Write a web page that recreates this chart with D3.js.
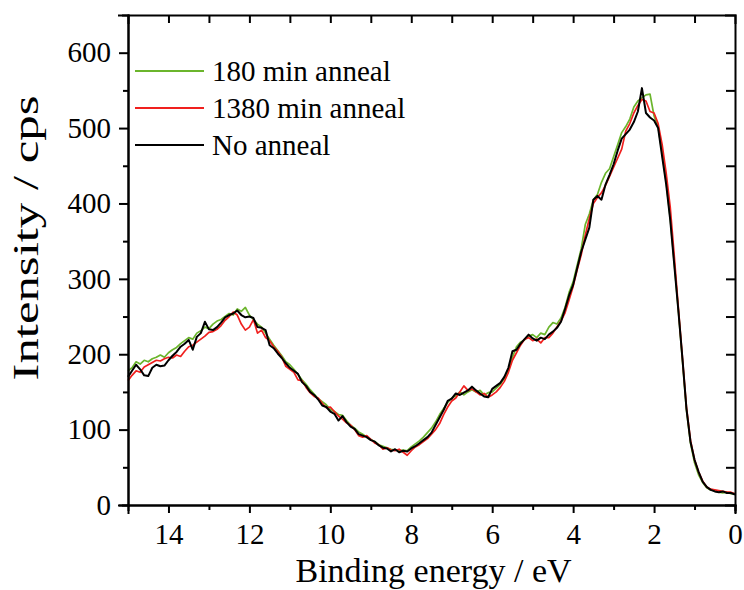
<!DOCTYPE html>
<html>
<head>
<meta charset="utf-8">
<script src="https://cdn.jsdelivr.net/npm/d3@7"></script>
<style>
  body { margin: 0; background: #fff; }
  text { font-family: "Liberation Serif", "Times New Roman", serif; fill: #000; }
</style>
</head>
<body>
<div id="chart"></div>
<script>
//  data : valence band spectra, binding energy 15.0 -> 0.0 eV, step 0.1 eV
var E_START = 15.0;
var E_STEP = 0.1;

var SERIES_NAMES = ["180 min anneal", "1380 min anneal", "No anneal"];
var SERIES_COLORS = ["#6bb52c", "#f0201e", "#000000"];

var anneal180 = [
  178, 182, 190, 187, 192, 190, 194, 196, 199, 196,
  202, 206, 209, 214, 218, 222, 220, 228, 231, 236,
  234, 240, 244, 246, 250, 254, 252, 260, 257, 262,
  252, 246, 240, 236, 228, 220, 212, 205, 198, 190,
  186, 180, 173, 166, 160, 153, 147, 141, 137, 133,
  127, 124, 120, 119, 112, 106, 102, 97, 94, 90,
  87, 84, 80, 78, 76, 74, 73, 72, 73, 72,
  77, 81, 85, 90, 96, 102, 110, 120, 128, 136,
  142, 145, 150, 146, 150, 153, 150, 152, 146, 149,
  150, 155, 160, 168, 180, 196, 210, 216, 219, 224,
  226, 222, 228, 226, 236, 242, 240, 248, 262, 282,
  296, 318, 340, 372, 386, 405, 412, 428, 440, 446,
  462, 478, 494, 502, 512, 528, 536, 540, 544, 545,
  516, 502, 466, 428, 380, 320, 258, 192, 126, 82,
  56, 40, 30, 23, 20, 19, 17, 16, 17, 15,
  15
];

var anneal1380 = [
  165, 172, 178, 176, 183, 186, 189, 192, 191, 194,
  196, 195, 199, 197, 204, 210, 212, 216, 220, 224,
  229, 230, 233, 238, 245, 250, 256, 252, 240, 232,
  236, 246, 228, 232, 222, 218, 210, 204, 196, 184,
  180, 176, 166, 165, 156, 149, 144, 142, 135, 129,
  130, 124, 118, 114, 109, 106, 100, 92, 90, 92,
  87, 82, 80, 74, 76, 73, 72, 74, 70, 66,
  72, 77, 80, 84, 88, 94, 100, 108, 120, 130,
  138, 142, 150, 158, 152, 154, 150, 146, 148, 143,
  146, 150, 156, 164, 176, 192, 202, 212, 220, 222,
  218, 220, 215, 222, 222, 228, 236, 244, 255, 272,
  290, 312, 332, 358, 380, 400, 408, 414, 424, 436,
  448, 460, 472, 496, 506, 520, 530, 538, 536, 522,
  520, 506, 478, 440, 395, 330, 262, 196, 130, 86,
  60, 44, 32, 24, 21, 20, 19, 18, 17, 17,
  15
];

var noAnneal = [
  170, 178, 186, 180, 172, 171, 182, 186, 184, 185,
  192, 198, 203, 210, 214, 219, 206, 223, 228, 243,
  233, 232, 236, 242, 249, 252, 254, 258, 252, 249,
  250, 248, 236, 235, 232, 212, 208, 201, 195, 188,
  182, 178, 174, 163, 158, 150, 146, 140, 132, 130,
  124, 121, 112, 118, 110, 104, 101, 94, 92, 90,
  86, 84, 79, 76, 75, 71, 74, 70, 72, 71,
  75, 78, 82, 86, 90, 96, 106, 116, 126, 138,
  141, 148, 146, 149, 152, 157, 152, 148, 144, 143,
  154, 158, 162, 170, 182, 204, 206, 214, 220, 226,
  221, 218, 222, 220, 226, 230, 235, 243, 260, 278,
  292, 314, 336, 352, 368, 405, 410, 405, 425, 438,
  452, 470, 486, 492, 498, 508, 522, 553, 520, 514,
  510, 500, 462, 425, 378, 318, 258, 195, 128, 84,
  60, 44, 31, 24, 20, 18, 17, 18, 16, 16,
  14
];

var X_TICKS = [14, 12, 10, 8, 6, 4, 2, 0];
var Y_TICKS = [0, 100, 200, 300, 400, 500, 600];

//  main
function main() {
  var series = [anneal180, anneal1380, noAnneal].map((vals, k) => ({
    name: SERIES_NAMES[k],
    color: SERIES_COLORS[k],
    values: vals.map((v, i) => ({ e: E_START - i * E_STEP, v: v }))
  }));
  draw_chart(series);
}

//  draw chart
function draw_chart(series) {
  const w = 744;
  const h = 590;
  const margin = {top: 15, right: 9, bottom: 85, left: 128};

  const svg = d3.select("#chart").append("svg").attr("width", w).attr("height", h);

  const x = d3.scaleLinear().domain([15, 0]).range([margin.left, w - margin.right]);
  const y = d3.scaleLinear().domain([0, 650]).range([h - margin.bottom, margin.top]);

  const line = d3.line().x(d => x(d.e)).y(d => y(d.v));

  svg.append("g").selectAll("path").data(series).enter()
    .append("path")
    .attr("d", d => line(d.values))
    .attr("fill", "none")
    .attr("stroke", d => d.color)
    .attr("stroke-width", (d, i) => i == 2 ? 2 : 1.7)
    .attr("stroke-linejoin", "round");

  // bottom axis : labelled majors + minor ticks
  const gx = svg.append("g").attr("transform", `translate(0,${h - margin.bottom})`);
  gx.call(d3.axisBottom(x).tickValues(d3.range(1, 15, 2)).tickSize(5).tickFormat(""));
  gx.call(g => g.append("g").call(d3.axisBottom(x).tickValues(X_TICKS).tickSize(8).tickPadding(10)));

  // left axis
  const gy = svg.append("g").attr("transform", `translate(${margin.left},0)`);
  gy.call(d3.axisLeft(y).tickValues(d3.range(50, 650, 100)).tickSize(5).tickFormat(""));
  gy.call(g => g.append("g").call(d3.axisLeft(y).tickValues(Y_TICKS).tickSize(9).tickPadding(8)));

  // top and right mirror axes, ticks inward
  svg.append("g").attr("transform", `translate(0,${margin.top})`)
    .call(d3.axisBottom(x).tickValues(d3.range(1, 15, 1)).tickSize(8).tickFormat(""));
  svg.append("g").attr("transform", `translate(${w - margin.right},0)`)
    .call(d3.axisLeft(y).tickValues(d3.range(50, 650, 50)).tickSize(9).tickFormat(""));

  svg.selectAll(".domain, .tick line").attr("stroke", "#000").attr("stroke-width", 2);
  svg.selectAll(".domain").attr("stroke-linecap", "square");
  svg.selectAll(".tick text").style("font-size", "29px").style("font-family", "Liberation Serif");

  // legend
  const lg = svg.append("g").selectAll("g").data(series).enter()
    .append("g")
    .attr("transform", (d, i) => `translate(135,${71 + i * 37})`);
  lg.append("line").attr("x1", 0).attr("x2", 69).attr("y1", 0).attr("y2", 0)
    .attr("stroke", d => d.color).attr("stroke-width", 1.8);
  lg.append("text").attr("x", 77).attr("y", 10)
    .style("font-size", "29px").text(d => d.name);

  // axis titles
  svg.append("text")
    .attr("x", x(7.5) + 2)
    .attr("y", 582)
    .attr("text-anchor", "middle")
    .style("font-size", "34px")
    .text("Binding energy / eV");

  svg.append("text")
    .attr("transform", "translate(38,238) rotate(-90)")
    .attr("text-anchor", "middle")
    .attr("textLength", 285)
    .attr("lengthAdjust", "spacingAndGlyphs")
    .style("font-size", "35px")
    .text("Intensity / cps");
}

main();
</script>
</body>
</html>
